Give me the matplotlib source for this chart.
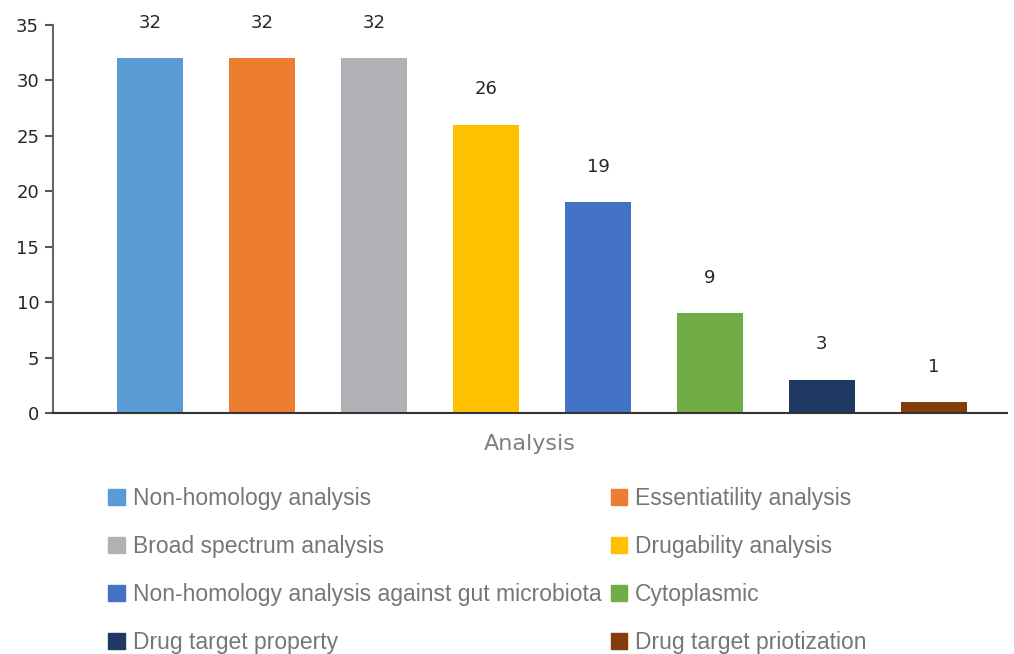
import matplotlib.pyplot as plt
from matplotlib.patches import Patch

plt.rcParams['font.family'] = ['DejaVu Sans']

steps = ['Non-homology analysis', 'Essentiatility analysis', 'Broad spectrum analysis',
         'Drugability analysis', 'Non-homology analysis against gut microbiota',
         'Cytoplasmic', 'Drug target property', 'Drug target priotization']
counts = [32, 32, 32, 26, 19, 9, 3, 1]
colors = ['#5b9bd5', '#ed7d31', '#b0b1b4', '#ffc000', '#4472c4', '#70ad47', '#203864', '#843c0c']

fig = plt.figure(figsize=(10.14, 6.54), dpi=100)
ax = fig.add_axes([0.0523, 0.3685, 0.9407, 0.5933])

xs = list(range(len(counts)))
bars = ax.bar(xs, counts, width=0.59, color=colors)
for x, v in zip(xs, counts):
    ax.annotate(str(v), (x, v), xytext=(0, 19), textcoords='offset points',
                ha='center', va='bottom', fontsize=13, color='#262626')

ax.set_xlim(-0.866, 7.652)
ax.set_ylim(0, 35)
ax.set_yticks(range(0, 36, 5))
ax.set_xticks([])
ax.tick_params(axis='y', labelsize=13, colors='#555555', labelcolor='#262626',
               length=6, width=1.5, pad=4)
for s in ['top', 'right']:
    ax.spines[s].set_visible(False)
ax.spines['left'].set_color('#666666')
ax.spines['left'].set_linewidth(1.5)
ax.spines['bottom'].set_color('#333333')
ax.spines['bottom'].set_linewidth(1.5)

ax.set_xlabel('Analysis', fontsize=16, color='#7f7f7f', labelpad=15)

# legend is filled column by column, so put pairs side by side
order = [0, 2, 4, 6, 1, 3, 5, 7]
handles = [Patch(color=colors[i]) for i in order]
labels = [steps[i] for i in order]
fig.legend(handles, labels, ncol=2, loc='upper left', bbox_to_anchor=(0.107, 0.256),
           frameon=False, prop={'family': 'Liberation Sans', 'size': 16.5},
           labelcolor='#767676', handlelength=0.7, handleheight=0.7,
           handletextpad=0.35, labelspacing=1.1, columnspacing=0.42,
           borderpad=0, borderaxespad=0)

fig.savefig('out.png', dpi=100)
